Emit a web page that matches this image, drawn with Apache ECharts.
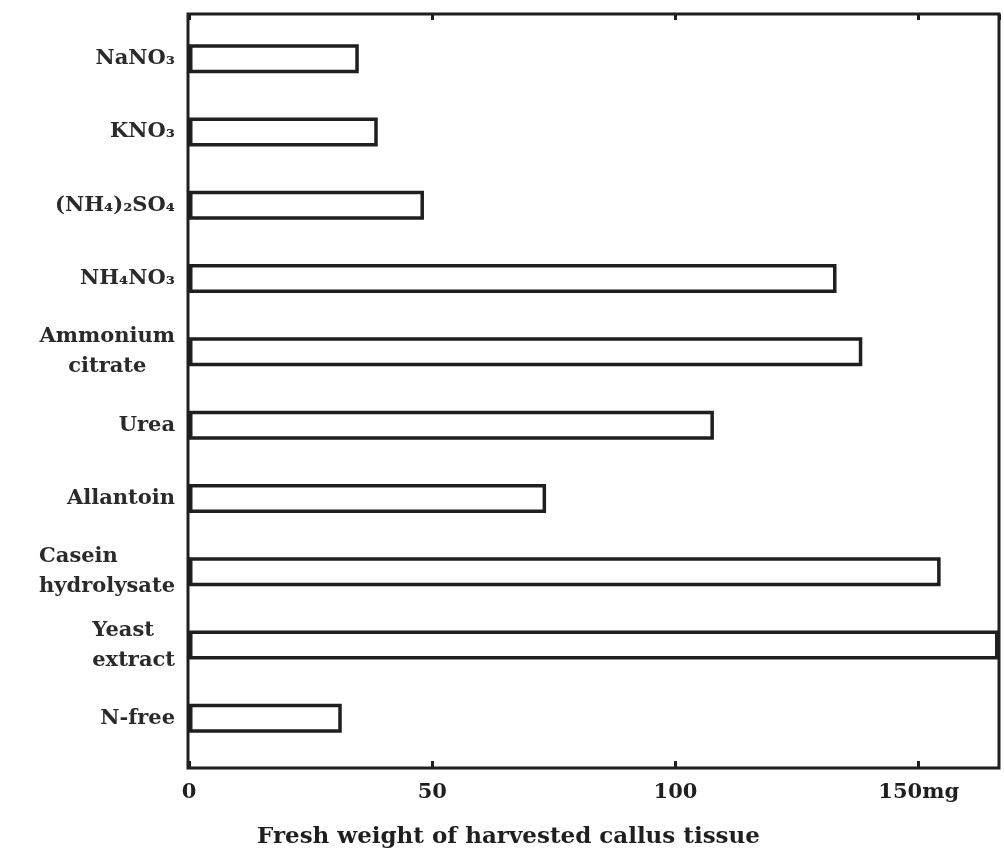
<!DOCTYPE html>
<html>
<head>
<meta charset="utf-8">
<title>Fresh weight of callus tissue</title>
<script src="https://cdn.jsdelivr.net/npm/echarts@6/dist/echarts.min.js"></script>
<style>
  html, body { margin: 0; padding: 0; background: #fff; }
  #chart { width: 1004px; height: 855px; }
</style>
</head>
<body>
<div id="chart"></div>
<script>
// nitrogen sources, top to bottom
var sources = [
  "NaNO₃",
  "KNO₃",
  "(NH₄)₂SO₄",
  "NH₄NO₃",
  "Ammonium\ncitrate",
  "Urea",
  "Allantoin",
  "Casein\nhydrolysate",
  "Yeast\nextract",
  "N-free"
];
// fresh weight, mg
var freshWeight = [34.9, 38.8, 48.3, 133.1, 138.4, 107.9, 73.4, 154.5, 166.4, 31.4];
var xTicks = [0, 50, 100, 150];
var xUnit = "mg";

var chartDom = document.getElementById("chart");
var myChart = echarts.init(chartDom);
var ink = "#1f1f1f";
var serif = "DejaVu Serif";

var option = {
  backgroundColor: "#fff",
  animation: false,
  title: {
    text: "Fresh weight of harvested callus tissue",
    left: 252,
    top: 821,
    textStyle: {
      color: ink,
      fontFamily: serif,
      fontWeight: "bold",
      fontSize: 23
    }
  },
  grid: {
    left: 189,
    right: 5,
    top: 22,
    bottom: 100
  },
  // outer frame
  graphic: [{
    type: "rect",
    shape: { x: 188, y: 14, width: 811, height: 754 },
    style: { fill: null, stroke: ink, lineWidth: 3 },
    z: 10
  }],
  xAxis: [{
    type: "value",
    position: "bottom",
    offset: 13,
    min: 0,
    max: 166.5,
    interval: 50,
    splitLine: { show: false },
    axisLine: { show: false },
    axisTick: { show: true, inside: true, length: 7, lineStyle: { color: ink, width: 3 } },
    axisLabel: {
      margin: 14,
      color: ink,
      fontFamily: serif,
      fontWeight: "bold",
      fontSize: 21,
      showMaxLabel: false,
      formatter: function (v) {
        if (xTicks.indexOf(v) < 0) return "";
        return v === xTicks[xTicks.length - 1] ? v + xUnit : String(v);
      }
    }
  }, {
    type: "value",
    position: "top",
    offset: 8,
    min: 0,
    max: 166.5,
    interval: 50,
    splitLine: { show: false },
    axisLine: { show: false },
    axisTick: { show: true, inside: true, length: 6, lineStyle: { color: ink, width: 3 } },
    axisLabel: { show: false }
  }],
  yAxis: {
    type: "category",
    inverse: true,
    data: sources,
    axisLine: { show: false },
    axisTick: { show: false },
    axisLabel: {
      margin: 14,
      color: "#2a2a2a",
      fontFamily: serif,
      fontWeight: "bold",
      fontSize: 21,
      lineHeight: 30,
      formatter: function (v) {
        // 两行标签：Ammonium citrate 居中，其余左对齐
        if (v.indexOf("\n") < 0) return v;
        var key = v.indexOf("Ammonium") === 0 ? "c" : "l";
        return v.split("\n").map(function (s) {
          return "{" + key + "|" + s + "}";
        }).join("\n");
      },
      rich: {
        l: { align: "left", color: "#2a2a2a", fontFamily: serif, fontWeight: "bold", fontSize: 21, lineHeight: 30 },
        c: { align: "center", color: "#2a2a2a", fontFamily: serif, fontWeight: "bold", fontSize: 21, lineHeight: 30 }
      }
    }
  },
  series: [{
    type: "bar",
    data: freshWeight,
    barWidth: 29,
    itemStyle: {
      color: "#fff",
      borderColor: ink,
      borderWidth: 3.5
    }
  }]
};

option && myChart.setOption(option);
window.addEventListener("resize", function () {
  myChart.resize();
});
</script>
</body>
</html>
